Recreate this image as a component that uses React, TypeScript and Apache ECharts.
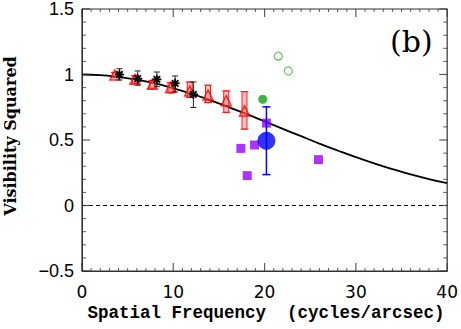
import React, { useEffect, useRef } from "react";
import * as echarts from "echarts";

// Model curve
const curveX = [0, 2, 4, 6, 8, 10, 12, 14, 16, 18, 20, 22, 24, 26, 28, 30, 32, 34, 36, 38, 40];
const curveY = [1.0, 0.996, 0.982, 0.961, 0.932, 0.895, 0.853, 0.805, 0.753, 0.699, 0.642, 0.585, 0.529, 0.473, 0.42, 0.369, 0.322, 0.278, 0.238, 0.202, 0.17];

// Red triangles
const redX = [3.6, 5.8, 7.7, 9.7, 11.8, 13.8, 15.8, 17.8];
const redY = [0.996, 0.963, 0.925, 0.9, 0.875, 0.844, 0.8, 0.722];
const redLo = [0.976, 0.933, 0.895, 0.86, 0.824, 0.786, 0.711, 0.583];
const redHi = [1.016, 0.993, 0.955, 0.94, 0.943, 0.918, 0.875, 0.869];

// Black stars
const blackX = [4.1, 6.1, 8.2, 10.2, 12.2];
const blackY = [1.0, 0.968, 0.963, 0.933, 0.849];
const blackLo = [0.958, 0.918, 0.907, 0.867, 0.748];
const blackHi = [1.044, 1.027, 1.019, 0.989, 0.943];

// Green
const greenFilledX = [19.8];
const greenFilledY = [0.811];
const greenOpenX = [21.5, 22.6];
const greenOpenY = [1.14, 1.027];

// Purple squares
const purpleX = [20.2, 18.9, 17.4, 18.1, 25.9];
const purpleY = [0.629, 0.462, 0.436, 0.228, 0.35];

// Blue point
const blueX = [20.2];
const blueY = [0.494];
const blueLo = [0.236];
const blueHi = [0.753];

// Axes
const xTicks = [0, 10, 20, 30, 40];
const yTicks = [-0.5, 0, 0.5, 1, 1.5];
const X_MIN = 0, X_MAX = 40, X_MINOR = 1;
const Y_MIN = -0.5, Y_MAX = 1.5, Y_MINOR = 0.1;

function zip(a: number[], b: number[]) {
  return a.map((v, i) => [v, b[i]]);
}

function errBar(color: string, capW: number, lw: number, fill?: string) {
  return (params: any, api: any) => {
    const x = api.value(0);
    const lo = api.coord([x, api.value(1)]);
    const hi = api.coord([x, api.value(2)]);
    const children: any[] = [];
    if (fill) {
      children.push({
        type: "rect",
        shape: { x: lo[0] - 2.5, y: hi[1], width: 5, height: lo[1] - hi[1] },
        style: { fill, stroke: color, lineWidth: 1 },
      });
    } else {
      children.push({
        type: "line",
        shape: { x1: lo[0], y1: lo[1], x2: hi[0], y2: hi[1] },
        style: { stroke: color, lineWidth: lw },
      });
    }
    children.push({
      type: "line",
      shape: { x1: lo[0] - capW / 2, y1: lo[1], x2: lo[0] + capW / 2, y2: lo[1] },
      style: { stroke: color, lineWidth: lw },
    });
    children.push({
      type: "line",
      shape: { x1: hi[0] - capW / 2, y1: hi[1], x2: hi[0] + capW / 2, y2: hi[1] },
      style: { stroke: color, lineWidth: lw },
    });
    return { type: "group", children };
  };
}

function starItem(params: any, api: any) {
  const p = api.coord([api.value(0), api.value(1)]);
  const r = 4.5;
  const d = r * 0.72;
  return {
    type: "group",
    children: [
      { type: "line", shape: { x1: p[0] - r, y1: p[1], x2: p[0] + r, y2: p[1] }, style: { stroke: "#000", lineWidth: 1.8 } },
      { type: "line", shape: { x1: p[0], y1: p[1] - r, x2: p[0], y2: p[1] + r }, style: { stroke: "#000", lineWidth: 1.8 } },
      { type: "line", shape: { x1: p[0] - d, y1: p[1] - d, x2: p[0] + d, y2: p[1] + d }, style: { stroke: "#000", lineWidth: 1.8 } },
      { type: "line", shape: { x1: p[0] - d, y1: p[1] + d, x2: p[0] + d, y2: p[1] - d }, style: { stroke: "#000", lineWidth: 1.8 } },
    ],
  };
}

function tickSeries(data: number[][], size: number[], offset: number[]) {
  return {
    type: "scatter",
    data,
    symbol: "rect",
    symbolSize: size,
    symbolOffset: offset,
    clip: false,
    silent: true,
    itemStyle: { color: "#333", borderWidth: 0 },
    z: 10,
  };
}

export default function App() {
  const ref = useRef<HTMLDivElement>(null);
  useEffect(() => {
    if (!ref.current) return;
    const chart = echarts.init(ref.current, null, { renderer: "svg" });

    const xMajor: number[][] = [];
    const xMinorB: number[][] = [];
    const xMajorT: number[][] = [];
    const xMinorT: number[][] = [];
    const nx = Math.round((X_MAX - X_MIN) / X_MINOR);
    for (let i = 0; i <= nx; i++) {
      const v = X_MIN + i * X_MINOR;
      if (xTicks.includes(v)) {
        xMajor.push([v, Y_MIN]);
        xMajorT.push([v, Y_MAX]);
      } else {
        xMinorB.push([v, Y_MIN]);
        xMinorT.push([v, Y_MAX]);
      }
    }
    const yMajorL: number[][] = [];
    const yMinorL: number[][] = [];
    const yMajorR: number[][] = [];
    const yMinorR: number[][] = [];
    const ny = Math.round((Y_MAX - Y_MIN) / Y_MINOR);
    for (let i = 0; i <= ny; i++) {
      const v = Math.round((Y_MIN + i * Y_MINOR) * 1000) / 1000;
      if (yTicks.includes(v)) {
        yMajorL.push([X_MIN, v]);
        yMajorR.push([X_MAX, v]);
      } else {
        yMinorL.push([X_MIN, v]);
        yMinorR.push([X_MAX, v]);
      }
    }

    chart.setOption({
      animation: false,
      grid: { left: 82, top: 9, width: 367, height: 262, containLabel: false },
      xAxis: {
        type: "value",
        min: X_MIN,
        max: X_MAX,
        interval: 10,
        axisLine: { show: true, onZero: false, lineStyle: { color: "#333" } },
        axisTick: { show: false },
        splitLine: { show: false },
        axisLabel: { margin: 12, fontFamily: "DejaVu Sans", fontSize: 17, color: "#000" },
      },
      yAxis: {
        type: "value",
        min: Y_MIN,
        max: Y_MAX,
        interval: 0.5,
        axisLine: { show: true, onZero: false, lineStyle: { color: "#333" } },
        axisTick: { show: false },
        splitLine: { show: false },
        axisLabel: {
          margin: 8,
          fontFamily: "Liberation Sans",
          fontSize: 18,
          color: "#000",
          formatter: (v: number) => String(v).replace("-", "\u2212"),
        },
      },
      graphic: [
        {
          type: "text",
          x: 266,
          y: 313,
          style: {
            text: "Spatial Frequency  (cycles/arcsec)",
            font: "bold 17.5px 'Liberation Mono'",
            fill: "#000",
            align: "center",
            verticalAlign: "middle",
          },
        },
        {
          type: "text",
          x: 10,
          y: 136,
          rotation: Math.PI / 2,
          style: {
            text: "Visibility Squared",
            font: "bold 16px 'DejaVu Serif'",
            fill: "#000",
            align: "center",
            verticalAlign: "middle",
          },
        },
        {
          type: "text",
          x: 390,
          y: 26,
          style: { text: "(b)", font: "30px 'DejaVu Serif'", fill: "#000" },
        },
      ],
      series: [
        {
          type: "line",
          data: [[X_MIN, Y_MIN], [X_MAX, Y_MIN], [X_MAX, Y_MAX], [X_MIN, Y_MAX], [X_MIN, Y_MIN]],
          showSymbol: false,
          symbol: "none",
          clip: false,
          silent: true,
          lineStyle: { color: "#333", width: 1.2 },
          z: 10,
        },
        tickSeries(xMajor, [1.2, 8], [0, -4]),
        tickSeries(xMinorB, [1, 3], [0, -1.5]),
        tickSeries(xMajorT, [1.2, 8], [0, 4]),
        tickSeries(xMinorT, [1, 3], [0, 1.5]),
        tickSeries(yMajorL, [8, 1.2], [4, 0]),
        tickSeries(yMinorL, [4, 1], [2, 0]),
        tickSeries(yMajorR, [8, 1.2], [-4, 0]),
        tickSeries(yMinorR, [4, 1], [-2, 0]),
        {
          type: "line",
          data: [[X_MIN, 0], [X_MAX, 0]],
          showSymbol: false,
          symbol: "none",
          lineStyle: { color: "#000", width: 1, type: [4, 3] },
          z: 1,
        },
        {
          type: "line",
          data: zip(curveX, curveY),
          smooth: true,
          showSymbol: false,
          symbol: "none",
          lineStyle: { color: "#000", width: 1.8 },
          z: 2,
        },
        {
          type: "custom",
          renderItem: errBar("#ff1a1a", 8, 1, "rgba(255,120,120,0.45)"),
          data: redX.map((x, i) => [x, redLo[i], redHi[i]]),
          z: 3,
        },
        {
          type: "scatter",
          data: zip(redX, redY),
          symbol: "triangle",
          symbolSize: 10,
          itemStyle: { color: "rgba(255,90,90,0.35)", borderColor: "#ff0000", borderWidth: 1.5 },
          z: 4,
        },
        {
          type: "custom",
          renderItem: errBar("#222", 6, 1),
          data: blackX.map((x, i) => [x, blackLo[i], blackHi[i]]),
          z: 5,
        },
        {
          type: "custom",
          renderItem: starItem,
          data: zip(blackX, blackY),
          z: 6,
        },
        {
          type: "scatter",
          data: zip(greenFilledX, greenFilledY),
          symbol: "circle",
          symbolSize: 9,
          itemStyle: { color: "#12a012" },
          z: 6,
        },
        {
          type: "scatter",
          data: zip(greenOpenX, greenOpenY),
          symbol: "circle",
          symbolSize: 8,
          itemStyle: { color: "rgba(255,255,255,0)", borderColor: "#3cb43c", borderWidth: 1.2 },
          z: 6,
        },
        {
          type: "scatter",
          data: zip(purpleX, purpleY),
          symbol: "rect",
          symbolSize: 9,
          itemStyle: { color: "#9b00ff" },
          z: 6,
        },
        {
          type: "custom",
          renderItem: errBar("#0000ff", 8, 1.5),
          data: blueX.map((x, i) => [x, blueLo[i], blueHi[i]]),
          z: 7,
        },
        {
          type: "scatter",
          data: zip(blueX, blueY),
          symbol: "circle",
          symbolSize: 18,
          itemStyle: { color: "#0000ff" },
          z: 8,
        },
      ],
    });
    return () => chart.dispose();
  }, []);
  return (
    <div
      ref={ref}
      style={{ position: "fixed", left: 0, top: 0, width: 461, height: 329, background: "#fff" }}
    />
  );
}
